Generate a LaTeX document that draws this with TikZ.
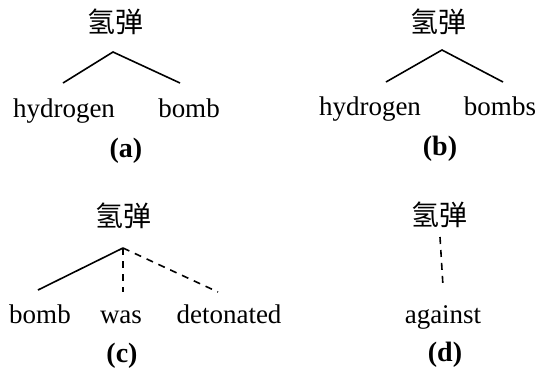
\documentclass[tikz,border=0pt]{standalone}
\usepackage{fontspec}
\setmainfont{Liberation Serif}
\newfontfamily\cjk{Noto Sans CJK SC}
\begin{document}
\begin{tikzpicture}[x=1pt,y=-1pt,
  word/.style={inner sep=0pt,anchor=base,font=\fontsize{27}{30}\selectfont},
  head/.style={inner sep=0pt,anchor=center,font=\cjk\fontsize{28}{30}\selectfont},
  tag/.style={inner sep=0pt,anchor=base,font=\bfseries\fontsize{28}{30}\selectfont},
  arc/.style={line width=1.6pt},
  darc/.style={line width=1.6pt,dash pattern=on 7pt off 6pt}]
\useasboundingbox (0,0) rectangle (539,376);
% (a)
\node[head] (ha) at (115,22) {氢弹};
\coordinate (pa) at (113,52);
\coordinate (la) at (63,83);
\coordinate (ra) at (180,83);
\node[word] (wa1) at (64,117) {hydrogen};
\node[word] (wa2) at (189,117) {bomb};
\node[tag] (ta) at (126,157) {(a)};
\draw[arc] (la) -- (pa) -- (ra);
% (b)
\node[head] (hb) at (438,22) {氢弹};
\coordinate (pb) at (442,50);
\coordinate (lb) at (386,82);
\coordinate (rb) at (503,82);
\node[word] (wb1) at (370,115) {hydrogen};
\node[word] (wb2) at (500,115) {bombs};
\node[tag] (tb) at (440,155) {(b)};
\draw[arc] (lb) -- (pb) -- (rb);
% (c)
\node[head] (hc) at (123,216) {氢弹};
\coordinate (pc) at (123,248);
\coordinate (lc) at (38,290);
\coordinate (mc) at (123,292);
\coordinate (rc) at (218,292);
\node[word] (wc1) at (40,323) {bomb};
\node[word] (wc2) at (121,323) {was};
\node[word] (wc3) at (229,323) {detonated};
\node[tag] (tc) at (122,362) {(c)};
\draw[arc] (lc) -- (pc);
\draw[darc] (pc) -- (mc);
\draw[darc] (pc) -- (rc);
% (d)
\node[head] (hd) at (439,215) {氢弹};
\coordinate (ud) at (440,237);
\coordinate (dd) at (443,286);
\node[word] (wd) at (443,323) {against};
\node[tag] (td) at (445,361) {(d)};
\draw[darc] (ud) -- (dd);
\end{tikzpicture}
\end{document}
